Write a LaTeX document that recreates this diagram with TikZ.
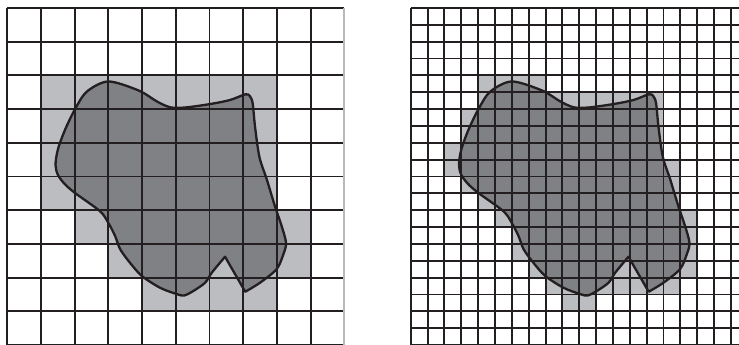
\documentclass[tikz,border=0pt]{standalone}
\usepackage{tikz}
\usepackage{xcolor}

\definecolor{cellgray}{RGB}{188,189,192}
\definecolor{blobgray}{RGB}{128,129,132}
\definecolor{inkline}{RGB}{35,31,32}

% outline of the region, in grid units (y runs downwards)
\newcommand{\blobshape}{(6.46,7.38) -- (7.06,8.42) -- plot[smooth] coordinates {
  (7.06,8.42) (7.5,8.15) (7.99,7.75) (8.19,7.31) (8.27,6.97) (8.14,6.47)
  (7.94,5.88) (7.7,5.09) (7.48,4.42) (7.35,3.52) (7.28,2.83) (7.2,2.62)
  (7.07,2.56) (6.61,2.73) (6.02,2.85) (5.3,2.95) (4.85,2.95) (4.45,2.78)
  (3.9,2.45) (3.0,2.18) (2.36,2.48) (2.01,3.0) (1.71,3.62) (1.5,4.2)
  (1.43,4.65) (1.5,4.95) (1.7,5.22) (2.01,5.49) (2.75,6.03) (3.0,6.38)
  (3.2,6.77) (3.35,7.16) (3.64,7.56) (3.99,7.95) (4.53,8.3) (5.03,8.49)
  (5.25,8.53) (5.53,8.39) (5.87,8.15) (6.07,7.85) (6.46,7.38)} -- cycle}

\begin{document}
\begin{tikzpicture}[x=1cm,y=-1cm,
  cellfill/.style={fill=cellgray},
  blobfill/.style={fill=blobgray},
  gridline/.style={draw=inkline,line width=1.6pt},
  blobline/.style={draw=inkline,line width=1.95pt,line join=round}]
\clip (-0.217,-0.237) rectangle (21.71,9.97);
\fill[white] (-0.217,-0.237) rectangle (21.71,9.97);

% coarse grid
\fill[cellfill] (1,2) rectangle (8,6);
\fill[cellfill] (2,6) rectangle (9,7);
\fill[cellfill] (3,7) rectangle (9,8);
\fill[cellfill] (4,8) rectangle (8,9);
\fill[blobfill] \blobshape;
\draw[gridline,step=1cm] (0,10) grid (10,0);
\draw[gridline,draw=gray!55] (10,0) -- (10,10);
\draw[blobline] \blobshape;

% fine grid
\begin{scope}[xshift=11.97cm]
\fill[cellfill] (2,2) rectangle (4,2.5);
\fill[cellfill] (2,2.5) rectangle (7.5,3);
\fill[cellfill] (1.5,3) rectangle (7.5,3.5);
\fill[cellfill] (1.5,3.5) rectangle (7.5,4);
\fill[cellfill] (1,4) rectangle (7.5,4.5);
\fill[cellfill] (1,4.5) rectangle (8,5);
\fill[cellfill] (1.5,5) rectangle (8,5.5);
\fill[cellfill] (2,5.5) rectangle (8,6);
\fill[cellfill] (2.5,6) rectangle (8.5,6.5);
\fill[cellfill] (3,6.5) rectangle (8.5,7);
\fill[cellfill] (3,7) rectangle (8.5,7.5);
\fill[cellfill] (3.5,7.5) rectangle (8.5,8);
\fill[cellfill] (4,8) rectangle (8,8.5);
\fill[cellfill] (4.5,8.5) rectangle (5.5,9);
\fill[blobfill] \blobshape;
\draw[gridline,step=0.5cm] (0,10) grid (10,0);
\draw[blobline] \blobshape;
\end{scope}
\end{tikzpicture}
\end{document}
